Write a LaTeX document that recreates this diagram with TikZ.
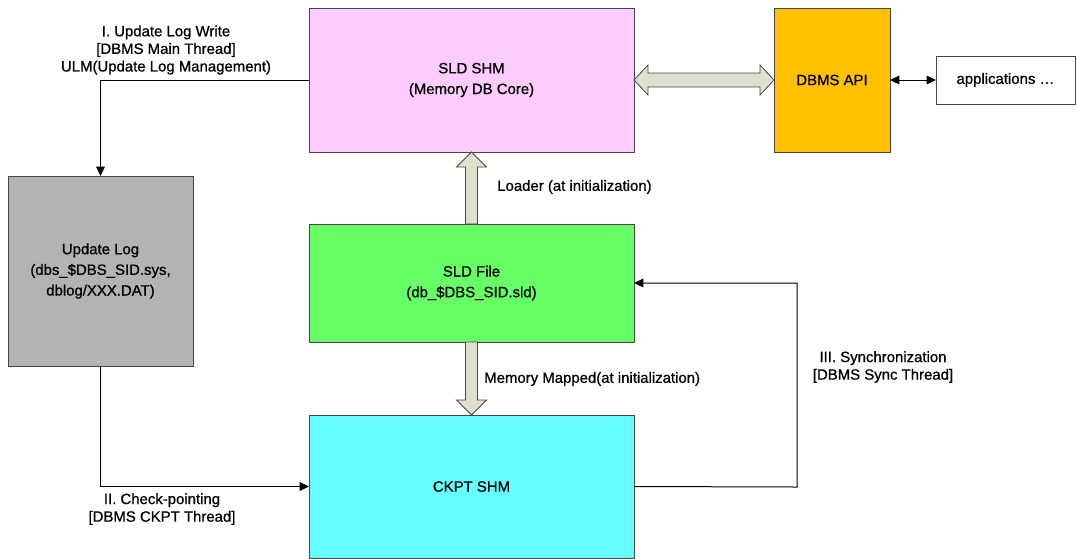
\documentclass[tikz,border=0pt]{standalone}
\usepackage{fontspec}
\setmainfont{Liberation Sans}[BoldFont={Liberation Sans}, BoldFeatures={FakeBold=0.8}]
\usetikzlibrary{arrows.meta}

\definecolor{shmpink}{RGB}{255,204,255}
\definecolor{apiorange}{RGB}{255,192,0}
\definecolor{loggray}{RGB}{179,179,179}
\definecolor{filegreen}{RGB}{102,255,102}
\definecolor{ckptcyan}{RGB}{102,255,255}
\definecolor{fatfill}{RGB}{221,224,204}
\definecolor{edgegray}{RGB}{70,70,70}

\tikzset{
  box/.style={draw=edgegray, line width=0.75pt, anchor=north west, outer sep=0pt,
    inner sep=0pt, align=center, font=\fontsize{11.2}{15.5}\selectfont\bfseries},
  conn/.style={draw=black, line width=0.75pt, -{Triangle[length=7pt,width=6.5pt]}},
  fatarrow/.style={draw=edgegray, fill=fatfill, line width=0.6pt, line join=miter},
  lbl/.style={inner sep=0pt, align=center, font=\fontsize{11.2}{13.2}\selectfont\bfseries}
}

\begin{document}
\begin{tikzpicture}[x=0.75pt,y=0.75pt,yscale=-1,xscale=1]
\useasboundingbox (0,0) rectangle (1077,558);

% Boxes
\node[box, fill=shmpink, minimum width=243.75pt, minimum height=108pt] (sldshm) at (309,8) {SLD SHM\\(Memory DB Core)};
\node[box, fill=apiorange, minimum width=87pt, minimum height=108pt] (dbmsapi) at (774,8) {DBMS API};
\node[box, fill=white, minimum width=104.25pt, minimum height=36pt] (apps) at (936,56) {applications …};
\node[box, fill=loggray, minimum width=138.75pt, minimum height=142.5pt] (updlog) at (8,176) {Update Log\\(dbs\_\$DBS\_SID.sys,\\dblog/XXX.DAT)};
\node[box, fill=filegreen, minimum width=243.75pt, minimum height=88.5pt] (sldfile) at (309,224) {SLD File\\(db\_\$DBS\_SID.sld)};
\node[box, fill=ckptcyan, minimum width=243.75pt, minimum height=107.25pt] (ckptshm) at (309,415) {CKPT SHM};

% Fat arrows
\draw[fatarrow] (sldshm.east) -- ++(14,-15) -- ++(0,8) -- ++(112,0) -- ++(0,-8)
  -- (dbmsapi.west) -- ++(-14,15) -- ++(0,-8) -- ++(-112,0) -- ++(0,8) -- cycle;
\draw[fatarrow] (sldfile.north) ++(-6,0) -- ++(0,-57) -- ++(-9,0) -- (sldshm.south)
  -- ++(15,15) -- ++(-9,0) -- ++(0,57) -- cycle;
\draw[fatarrow] (sldfile.south) ++(-6,0) -- ++(0,58) -- ++(-9,0) -- (ckptshm.north)
  -- ++(15,-15) -- ++(-9,0) -- ++(0,-58) -- cycle;

% Connectors
\coordinate (syncturn) at (797,487);
\draw[conn] (sldshm.west) -| (updlog.north);
\draw[conn] (updlog.south) |- (ckptshm.west);
\draw[conn] (ckptshm.east) -- (syncturn) |- (sldfile.east);
\draw[conn, {Triangle[length=7pt,width=6.5pt]}-{Triangle[length=7pt,width=6.5pt]}] (dbmsapi.east) -- (apps.west);

% Labels
\node[lbl] (writelbl) at (166,50) {I. Update Log Write\\{}[DBMS Main Thread]\\ULM(Update Log Management)};
\node[lbl, anchor=west] (loaderlbl) at (497,187) {Loader (at initialization)};
\node[lbl, anchor=west] (mappedlbl) at (484,379) {Memory Mapped(at initialization)};
\node[lbl] (ckptlbl) at (162,509) {II. Check-pointing\\{}[DBMS CKPT Thread]};
\node[lbl] (synclbl) at (883,367) {III. Synchronization\\{}[DBMS Sync Thread]};

\end{tikzpicture}
\end{document}
